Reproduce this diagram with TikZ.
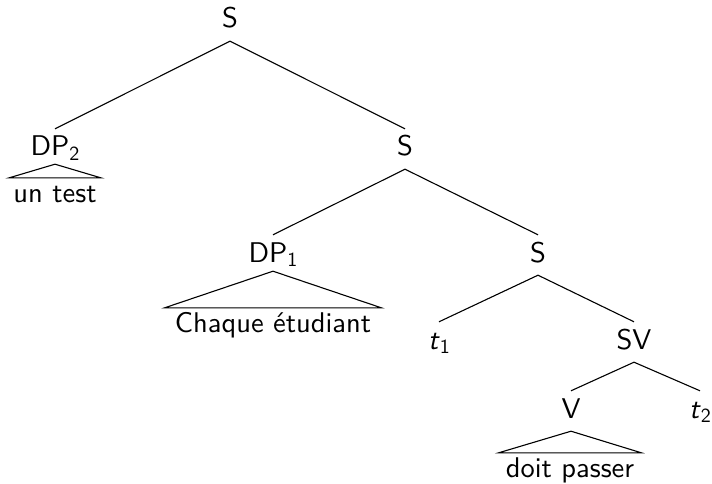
\documentclass[tikz,border=0pt]{standalone}
\usepackage{fontspec}
\setsansfont{lmsans10-regular.otf}[ItalicFont=lmsans10-oblique.otf]
\newcommand{\mysub}[1]{\raisebox{-4.5pt}{\fontsize{20}{24}\selectfont #1}}
\begin{document}
\begin{tikzpicture}[x=1pt,y=-1pt,
  every node/.style={font=\sffamily\fontsize{28.5}{34}\selectfont},
  lab/.style={anchor=base,text height=21pt,text depth=7pt,inner ysep=6pt,inner xsep=0pt},
  leaf/.style={anchor=base,text height=18pt,text depth=7pt,inner ysep=6pt,inner xsep=7pt},
  edge/.style={line width=1.1pt},
  roof/.style={line width=1.1pt,line join=miter}]
\useasboundingbox (0,0) rectangle (712,484);
\node[lab] (s1) at (230,28) {S};
\node[lab] (dp2) at (55,156) {DP\mysub{2}};
\node[lab] (s2) at (405,156) {S};
\node[lab] (dp1) at (273,262) {DP\mysub{1}};
\node[lab] (s3) at (538,262) {S};
\node[lab] (t1) at (439,349) {\textit{t}\mysub{1}};
\node[lab] (sv) at (634,349) {SV};
\node[lab] (v) at (571,418) {V};
\node[lab] (t2) at (700,418) {\textit{t}\mysub{2}};
\node[leaf,inner xsep=4pt] (l1) at (55,202) {un test};
\node[leaf,inner xsep=10pt] (l2) at (273,332) {Chaque étudiant};
\node[leaf] (l3) at (570,477) {doit passer};
\draw[edge] (s1.south) -- (dp2.north);
\draw[edge] (s1.south) -- (s2.north);
\draw[edge] (s2.south) -- (dp1.north);
\draw[edge] (s2.south) -- (s3.north);
\draw[edge] (s3.south) -- (t1.north);
\draw[edge] (s3.south) -- (sv.north);
\draw[edge] (sv.south) -- (v.north);
\draw[edge] (sv.south) -- (t2.north);
\draw[roof] ([yshift=5pt]dp2.south) -- (l1.north east) -- (l1.north west) -- cycle;
\draw[roof] ([yshift=4pt]dp1.south) -- (l2.north east) -- (l2.north west) -- cycle;
\draw[roof] (v.south) -- (l3.north east) -- (l3.north west) -- cycle;
\end{tikzpicture}
\end{document}
